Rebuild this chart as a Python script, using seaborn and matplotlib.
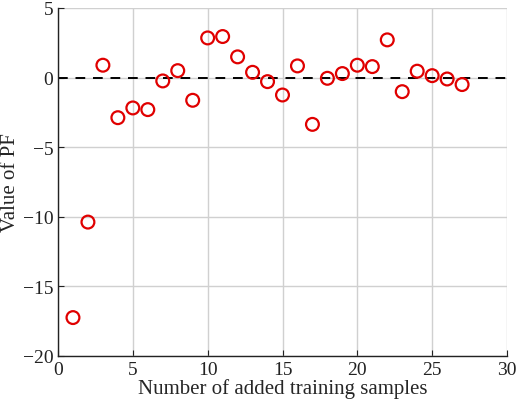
import matplotlib
matplotlib.use("Agg")
import matplotlib.pyplot as plt
import seaborn as sns

samples = list(range(1, 28))
pf_values = [-17.24, -10.38, 0.89, -2.88, -2.18, -2.30, -0.24, 0.50, -1.63, 2.85,
             2.95, 1.49, 0.38, -0.29, -1.25, 0.84, -3.36, -0.05, 0.29, 0.89,
             0.79, 2.71, -1.01, 0.46, 0.14, -0.10, -0.50]

sns.set_style("white")
plt.rcParams["font.family"] = ["Liberation Serif", "DejaVu Serif"]

fig = plt.figure(figsize=(5.2, 4.1), dpi=100)
ax = fig.add_axes([58 / 520, 1 - 357 / 410, (507 - 58) / 520, (357 - 9) / 410])

sns.scatterplot(x=samples, y=pf_values, ax=ax, marker="o", s=85,
                facecolor="none", edgecolor="#e00000", linewidth=1.6, zorder=3)
ax.axhline(0, color="black", linestyle=(0, (5, 4)), linewidth=1.4, zorder=2)

ax.set_xlim(0, 30)
ax.set_ylim(-20, 5)
ax.set_xticks(range(0, 31, 5))
ax.set_yticks(range(-20, 6, 5))
ax.grid(True, color="#d0d0d0", linewidth=1)
ax.set_axisbelow(True)
for side in ["top", "right"]:
    ax.spines[side].set_visible(False)
for side in ["left", "bottom"]:
    ax.spines[side].set_color("#222222")
    ax.spines[side].set_linewidth(1.0)
ax.tick_params(direction="in", length=4, labelsize=14, left=True, bottom=True, colors="#222222")
ax.set_xlabel("Number of added training samples", fontsize=15, labelpad=0)
ax.set_ylabel("Value of PF", fontsize=15, labelpad=2)

fig.savefig("out.png", dpi=100)
